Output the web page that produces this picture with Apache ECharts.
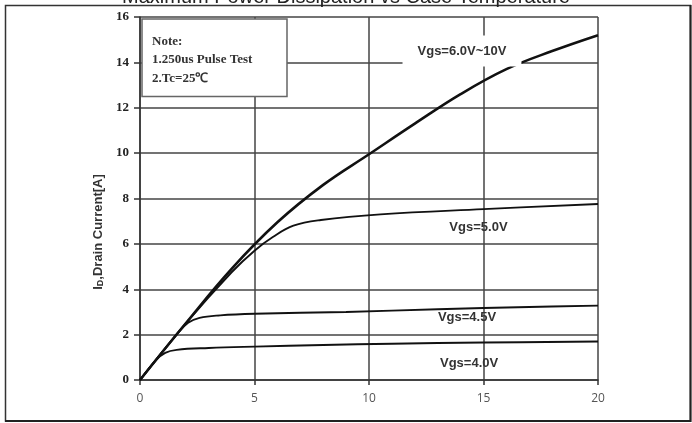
<!DOCTYPE html>
<html>
<head>
<meta charset="utf-8">
<script src="https://cdn.jsdelivr.net/npm/echarts@6/dist/echarts.min.js"></script>
<style>html,body{margin:0;padding:0;background:#fff}#c{width:692px;height:423px}</style>
</head>
<body>
<div id="c"></div>
<script>
// ---- data ----
const titleText = 'Maximum Power Dissipation vs Case Temperature';
const xTicks = [0, 5, 10, 15, 20];
const yTicks = [0, 2, 4, 6, 8, 10, 12, 14, 16];
const seriesNames = ['Vgs=6.0V~10V', 'Vgs=5.0V', 'Vgs=4.5V', 'Vgs=4.0V'];
const vgs6to10 = [[0,0],[2,2.5],[4,4.9],[6,6.95],[8,8.6],[10,9.95],[12,11.3],[14,12.6],[16,13.7],[18,14.5],[20,15.2]];
const vgs5 = [[0,0],[2,2.5],[4,4.75],[5,5.7],[5.8,6.3],[6.7,6.8],[7.9,7.05],[10.5,7.3],[15,7.53],[20,7.76]];
const vgs45 = [[0,0],[1.6,2.0],[2.1,2.52],[2.6,2.74],[3.5,2.85],[5,2.92],[9,3.0],[13,3.12],[17,3.22],[20,3.28]];
const vgs4 = [[0,0],[0.7,0.88],[1.1,1.2],[1.6,1.33],[3,1.41],[5,1.47],[8,1.54],[11,1.6],[15,1.65],[20,1.7]];
const labelCoords = [[14.06,14.5],[14.78,6.74],[14.28,2.78],[14.37,0.75]];
const noteLines = ['Note:', '1.250us Pulse Test', '2.Tc=25\u2103'];
const yAxisTitle = ['I', 'D', ',Drain Current[A]'];

const chart = echarts.init(document.getElementById('c'), null, {renderer: 'canvas'});
const allData = [vgs6to10, vgs5, vgs45, vgs4];
const widths = [2.6, 1.9, 1.9, 1.9];

const series = allData.map((d, i) => ({
  type: 'line',
  name: seriesNames[i],
  data: d,
  smooth: 0.4,
  symbol: 'none',
  lineStyle: {color: '#111', width: widths[i]},
  z: 3,
  markPoint: {
    symbol: 'rect', symbolSize: 0,
    data: [{coord: labelCoords[i], value: seriesNames[i]}],
    label: {
      show: true, position: 'inside', formatter: seriesNames[i],
      fontFamily: 'Liberation Sans', fontWeight: 'bold', fontSize: 13, color: '#333',
      backgroundColor: i === 0 ? '#fff' : 'transparent',
      padding: i === 0 ? [9, 15] : 0
    },
    z: 10
  }
}));

chart.setOption({
  animation: false,
  backgroundColor: '#fff',
  grid: {left: 140, right: 94, top: 17, bottom: 43},
  xAxis: {
    type: 'value', min: xTicks[0], max: xTicks[xTicks.length - 1], interval: 5,
    axisLine: {show: true, lineStyle: {color: '#333', width: 1.5}},
    axisTick: {show: true, length: 5, lineStyle: {color: '#333', width: 1.5}},
    splitLine: {show: true, lineStyle: {color: '#444', width: 1.5}},
    axisLabel: {color: '#555', fontFamily: 'Open Sans', fontSize: 12, margin: 13}
  },
  yAxis: {
    type: 'value', min: yTicks[0], max: yTicks[yTicks.length - 1], interval: 2,
    axisLine: {show: true, lineStyle: {color: '#333', width: 1.5}},
    axisTick: {show: true, length: 6, lineStyle: {color: '#333', width: 1.5}},
    splitLine: {show: true, lineStyle: {color: '#444', width: 1.5}},
    axisLabel: {color: '#222', fontFamily: 'Liberation Serif', fontWeight: 'bold', fontSize: 13, margin: 11}
  },
  series: series,
  graphic: [
    {type: 'rect', shape: {x: 5.5, y: 5.5, width: 685, height: 415.5}, style: {fill: 'none', stroke: '#333', lineWidth: 1.5}, z: 1},
    {type: 'line', shape: {x1: 690.5, y1: 5, x2: 690.5, y2: 422}, style: {stroke: '#222', lineWidth: 2}, z: 1},
    {type: 'line', shape: {x1: 5, y1: 421, x2: 691, y2: 421}, style: {stroke: '#222', lineWidth: 2}, z: 1},
    {type: 'text', left: 'center', top: -13, style: {text: titleText, font: '20px "Liberation Sans"', fill: '#222'}, z: 1},
    {type: 'rect', shape: {x: 142, y: 19, width: 145, height: 77.5}, style: {fill: '#fff', stroke: '#666', lineWidth: 1.5}, z: 20},
    {type: 'text', x: 152, y: 32, style: {text: noteLines.join('\n'), font: 'bold 13px "Liberation Serif"', lineHeight: 18.5, fill: '#333'}, z: 21},
    {type: 'text', x: 98, y: 232, rotation: Math.PI / 2,
      style: {
        text: '{a|' + yAxisTitle[0] + '}{b|' + yAxisTitle[1] + '}{a|' + yAxisTitle[2] + '}',
        align: 'center', verticalAlign: 'middle',
        rich: {
          a: {font: 'bold 13px "Liberation Sans"', fill: '#333'},
          b: {font: 'bold 9px "Liberation Sans"', fill: '#333', padding: [6, 0, 0, 0]}
        }
      }, z: 21}
  ]
});
</script>
</body>
</html>
